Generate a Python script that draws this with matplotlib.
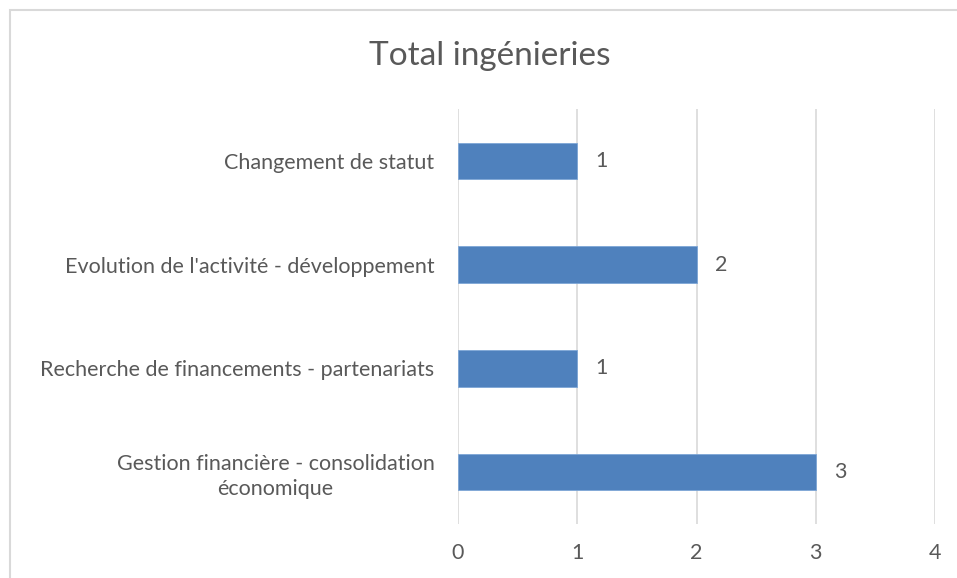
import matplotlib.pyplot as plt
from matplotlib.patches import Rectangle

categories = [
    "Gestion financière - consolidation\néconomique",
    "Recherche de financements - partenariats",
    "Evolution de l'activité - développement",
    "Changement de statut",
]
values = [3, 1, 2, 1]
x_ticks = [0, 1, 2, 3, 4]

text_color = "#595959"
bar_color = "#4F81BD"
grid_color = "#D9D9D9"

plt.rcParams['font.family'] = ['Lato', 'DejaVu Sans']

fig = plt.figure(figsize=(9.57, 5.78), dpi=100)
ax = fig.add_axes([0.4786, 0.0934, 0.4984, 0.718])

# outer chart frame (right and bottom edges fall outside the picture)
fig.patches.append(Rectangle((10 / 957, -0.05), 1.1, 1 - 10 / 578 + 0.05,
                             transform=fig.transFigure, fill=False,
                             edgecolor=grid_color, linewidth=1.5))

y = list(range(len(categories)))
ax.barh(y, values, height=0.35, color=bar_color, edgecolor="#7EA6D6",
        linewidth=0.6, zorder=3)

for yi, v in zip(y, values):
    ax.annotate(str(v), (v, yi), xytext=(13, 0), textcoords="offset points",
                ha="left", va="center", fontsize=15.5, color=text_color)

ax.set_xlim(0, 4)
ax.set_ylim(-0.5, len(categories) - 0.5)
ax.set_xticks(x_ticks)
ax.set_xticklabels([str(t) for t in x_ticks])
ax.set_yticks(y)
ax.set_yticklabels(categories)

for lbl in ax.get_yticklabels():
    lbl.set_horizontalalignment("right")
    lbl.set_multialignment("center")
    lbl.set_linespacing(1.3)

ax.tick_params(axis="x", length=0, pad=14, labelsize=15.5, colors=text_color)
ax.tick_params(axis="y", length=0, pad=17, labelsize=15.5, colors=text_color)

ax.grid(axis="x", color=grid_color, linewidth=1.2, zorder=0)
ax.set_axisbelow(True)
for s in ax.spines.values():
    s.set_visible(False)

fig.text(490 / 957, 1 - 56 / 578, "Total ingénieries", ha="center", va="center",
         fontsize=24, color=text_color)

fig.savefig("out.png", dpi=100)
